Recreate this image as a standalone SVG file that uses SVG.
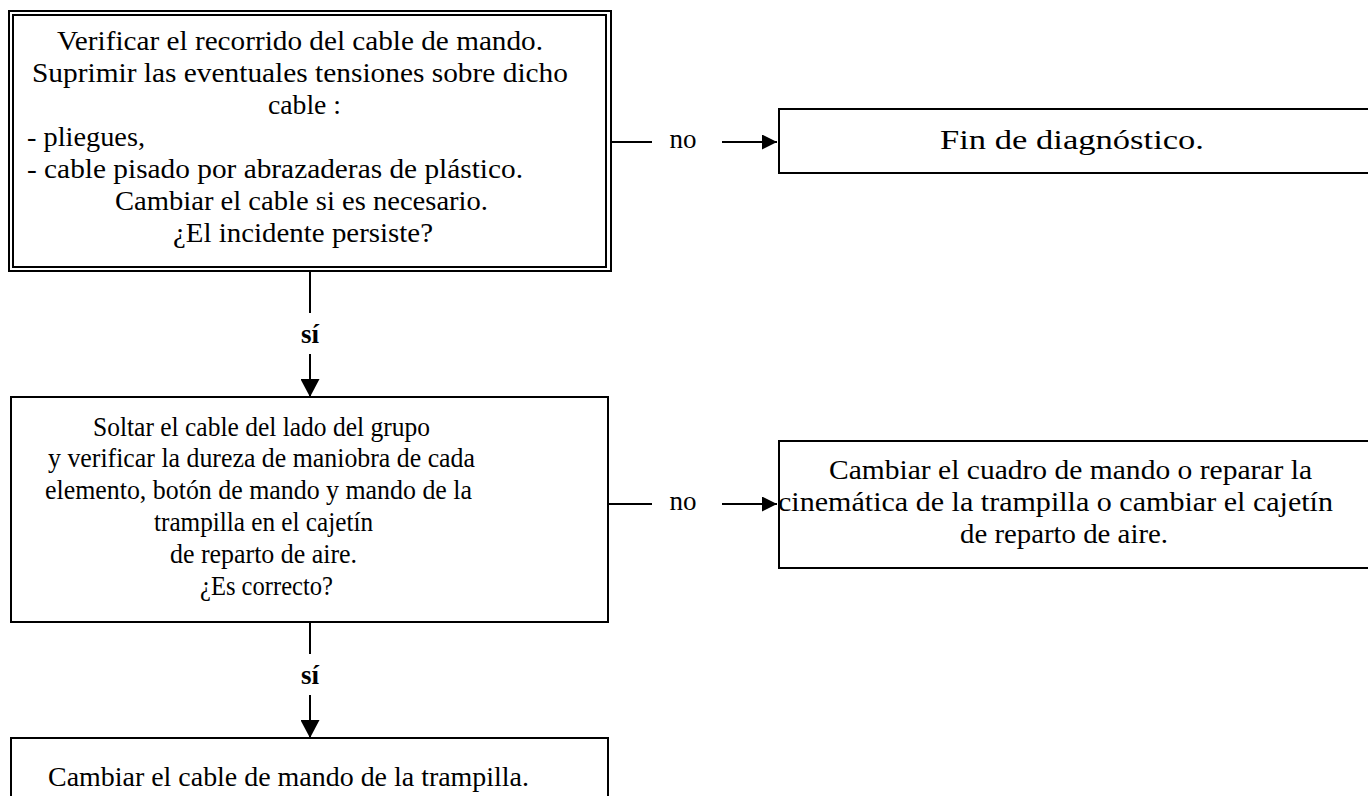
<svg xmlns="http://www.w3.org/2000/svg" width="1368" height="796" viewBox="0 0 1368 796">
<style>
.t{font-family:"Liberation Serif","DejaVu Serif",serif;font-size:27px;fill:#000}
.c{text-anchor:middle}
.b{font-weight:bold}
.box{fill:#fff;stroke:#000;stroke-width:2}
.ln{stroke:#000;stroke-width:2;fill:none}
</style>
<defs>
<marker id="ah" viewBox="0 0 15 15" markerWidth="15" markerHeight="15" refX="15" refY="7.5" orient="auto" markerUnits="userSpaceOnUse"><path d="M0,0 L15,7.5 L0,15 z" fill="#000"/></marker>
<marker id="av" viewBox="0 0 18 19" markerWidth="18" markerHeight="19" refX="18" refY="9.5" orient="auto" markerUnits="userSpaceOnUse"><path d="M0,0 L18,9.5 L0,19 z" fill="#000"/></marker>
</defs>
<rect width="1368" height="796" fill="#fff"/>

<g id="connectors">
<line class="ln" x1="607" y1="142" x2="652" y2="142"/>
<line class="ln" x1="722" y1="142" x2="777" y2="142" marker-end="url(#ah)"/>
<text class="t c" x="683" y="148">no</text>
<line class="ln" x1="609" y1="504" x2="652" y2="504"/>
<line class="ln" x1="722" y1="504" x2="777" y2="504" marker-end="url(#ah)"/>
<text class="t c" x="683" y="510">no</text>
<line class="ln" x1="310" y1="272" x2="310" y2="313"/>
<line class="ln" x1="310" y1="354" x2="310" y2="397" marker-end="url(#av)"/>
<text class="t c b" x="310" y="343">sí</text>
<line class="ln" x1="310" y1="622" x2="310" y2="654"/>
<line class="ln" x1="310" y1="695" x2="310" y2="738" marker-end="url(#av)"/>
<text class="t c b" x="310" y="684">sí</text>
</g>

<g id="n1">
<rect class="box" x="9" y="11" width="602" height="260"/>
<rect class="box" x="13" y="15" width="593" height="252"/>
<text class="t" x="57" y="50" textLength="486" lengthAdjust="spacingAndGlyphs">Verificar el recorrido del cable de mando.</text>
<text class="t" x="32" y="82" textLength="536" lengthAdjust="spacingAndGlyphs">Suprimir las eventuales tensiones sobre dicho</text>
<text class="t" x="268" y="114" textLength="73" lengthAdjust="spacingAndGlyphs">cable :</text>
<text class="t" x="27" y="146" textLength="118" lengthAdjust="spacingAndGlyphs">- pliegues,</text>
<text class="t" x="27" y="178" textLength="496" lengthAdjust="spacingAndGlyphs">- cable pisado por abrazaderas de plástico.</text>
<text class="t" x="115" y="210" textLength="373" lengthAdjust="spacingAndGlyphs">Cambiar el cable si es necesario.</text>
<text class="t" x="173" y="242" textLength="260" lengthAdjust="spacingAndGlyphs">¿El incidente persiste?</text>
</g>

<g id="n2">
<rect class="box" x="779" y="109" width="620" height="64"/>
<text class="t" x="940" y="149" textLength="264" lengthAdjust="spacingAndGlyphs">Fin de diagnóstico.</text>
</g>

<g id="n3">
<rect class="box" x="11" y="397" width="597" height="225"/>
<text class="t" x="93" y="436" textLength="337" lengthAdjust="spacingAndGlyphs">Soltar el cable del lado del grupo</text>
<text class="t" x="48" y="467" textLength="427" lengthAdjust="spacingAndGlyphs">y verificar la dureza de maniobra de cada</text>
<text class="t" x="45" y="499" textLength="427" lengthAdjust="spacingAndGlyphs">elemento, botón de mando y mando de la</text>
<text class="t" x="154" y="531" textLength="219" lengthAdjust="spacingAndGlyphs">trampilla en el cajetín</text>
<text class="t" x="170" y="563" textLength="187" lengthAdjust="spacingAndGlyphs">de reparto de aire.</text>
<text class="t" x="200" y="595" textLength="133" lengthAdjust="spacingAndGlyphs">¿Es correcto?</text>
</g>

<g id="n4">
<rect class="box" x="779" y="441" width="620" height="127"/>
<text class="t" x="829" y="479" textLength="483" lengthAdjust="spacingAndGlyphs">Cambiar el cuadro de mando o reparar la</text>
<text class="t" x="778" y="511" textLength="555" lengthAdjust="spacingAndGlyphs">cinemática de la trampilla o cambiar el cajetín</text>
<text class="t c" x="1064" y="543" textLength="208" lengthAdjust="spacingAndGlyphs">de reparto de aire.</text>
</g>

<g id="n5">
<rect class="box" x="11" y="738" width="597" height="80"/>
<text class="t" x="48" y="786" textLength="481" lengthAdjust="spacingAndGlyphs">Cambiar el cable de mando de la trampilla.</text>
</g>
</svg>
